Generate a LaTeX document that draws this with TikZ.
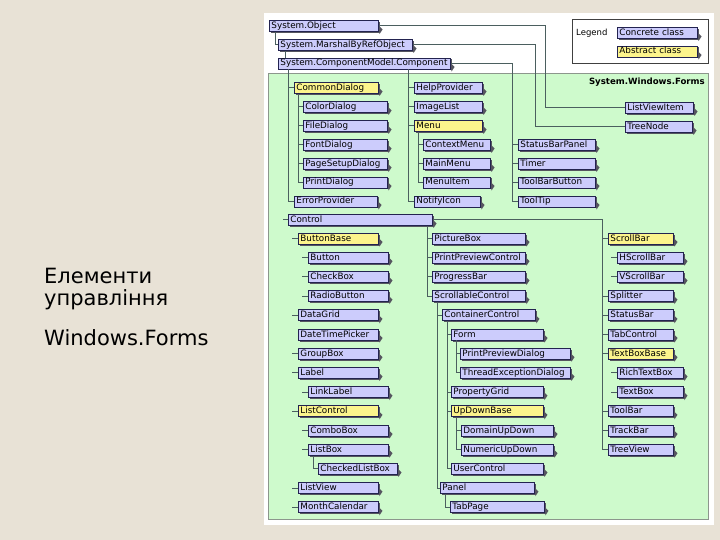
\documentclass[tikz,border=0pt]{standalone}
\usepackage{fontspec}
\setmainfont{DejaVu Sans}
\usetikzlibrary{calc}
\definecolor{bgc}{RGB}{232,226,214}
\definecolor{grn}{RGB}{206,250,204}
\definecolor{grnb}{RGB}{140,150,140}
\definecolor{lav}{RGB}{204,204,252}
\definecolor{yel}{RGB}{252,244,140}
\definecolor{navy}{RGB}{35,35,80}
\definecolor{treec}{RGB}{75,95,95}
\definecolor{shad}{RGB}{85,85,95}
\tikzset{
  cls/.style={draw=navy, line width=0.9pt, fill=lav, anchor=west, minimum height=11pt,
    inner ysep=0pt, inner xsep=2pt, font=\fontsize{8.8}{9}\selectfont,
    text height=6.6pt, text depth=1.6pt, align=left},
  abs/.style={cls, fill=yel},
  tree/.style={draw=treec, line width=1pt},
  big/.style={anchor=base west, font=\fontsize{21}{24}\selectfont, inner sep=0pt},
}
% style, name, left, right, y, text
\newcommand\clsbox[6][cls]{%
  \pgfmathsetmacro\cw{#4-#3-4}%
  \fill[shad] (#3+1.5,#5-4) rectangle (#4+1.5,#5+7);%
  \fill[shad] (#4,#5-1) -- (#4+4.5,#5+3.5) -- (#4+1.5,#5+8) -- cycle;%
  \node[#1, text width=\cw pt] (#2) at (#3,#5) {#6};%
}
\begin{document}
\begin{tikzpicture}[x=1pt,y=-1pt]
\useasboundingbox (0,0) rectangle (720,540);
\fill[bgc] (0,0) rectangle (720,540);
% left title
\node[big] (t1) at (44,283) {Елементи};
\node[big] (t2) at (44,305) {управління};
\node[big] (t3) at (44,345) {Windows.Forms};
% panel
\fill[white] (264,13) rectangle (714,525);
\draw[draw=grnb, fill=grn, line width=0.8pt] (268,73) rectangle (708,519);
\node[anchor=east, font=\bfseries\fontsize{8.6}{9}\selectfont, inner sep=0pt] (swf) at (705,82) {System.Windows.Forms};
% legend
\draw[draw=black!75, fill=white, line width=0.8pt] (572,19) rectangle (708,63);
\node[anchor=west, font=\fontsize{8.5}{9}\selectfont, inner sep=0pt] (legt) at (576,33) {Legend};
\clsbox{leg1}{617}{697}{33}{Concrete class}
\clsbox[abs]{leg2}{617}{697}{51.5}{Abstract class}
% system classes
\clsbox{obj}{269}{378}{26}{System.Object}
\clsbox{mbr}{278}{412}{45}{System.MarshalByRefObject}
\clsbox{cmp}{278}{450}{63.5}{System.ComponentModel.Component}
% components
\clsbox[abs]{cdlg}{294}{378}{88}{CommonDialog}
\clsbox{colord}{303}{387}{107}{ColorDialog}
\clsbox{filed}{303}{387}{126}{FileDialog}
\clsbox{fontd}{303}{387}{145}{FontDialog}
\clsbox{psd}{303}{387}{164}{PageSetupDialog}
\clsbox{prd}{303}{387}{182.5}{PrintDialog}
\clsbox{errp}{294}{377}{201.5}{ErrorProvider}
\clsbox{help}{414}{482}{88}{HelpProvider}
\clsbox{imgl}{414}{482}{107}{ImageList}
\clsbox[abs]{menu}{414}{482}{126}{Menu}
\clsbox{ctxm}{423}{490}{145}{ContextMenu}
\clsbox{mainm}{423}{490}{164}{MainMenu}
\clsbox{menui}{423}{490}{182.5}{MenuItem}
\clsbox{notif}{414}{480}{201.5}{NotifyIcon}
\clsbox{lvi}{625}{693}{108}{ListViewItem}
\clsbox{tnode}{625}{692}{127}{TreeNode}
\clsbox{sbp}{518}{595}{145}{StatusBarPanel}
\clsbox{timer}{518}{595}{164}{Timer}
\clsbox{tbb}{518}{595}{182.5}{ToolBarButton}
\clsbox{ttip}{518}{595}{201.5}{ToolTip}
% control
\clsbox{ctl}{288}{432}{220}{Control}
% left column
\clsbox[abs]{bbase}{298}{378}{238.5}{ButtonBase}
\clsbox{btn}{308}{388}{257.7}{Button}
\clsbox{chk}{308}{388}{276.9}{CheckBox}
\clsbox{rad}{308}{388}{296.1}{RadioButton}
\clsbox{dgrid}{298}{378}{315.3}{DataGrid}
\clsbox{dtp}{298}{378}{334.5}{DateTimePicker}
\clsbox{grp}{298}{378}{353.7}{GroupBox}
\clsbox{lbl}{298}{378}{372.9}{Label}
\clsbox{llbl}{308}{388}{392.1}{LinkLabel}
\clsbox[abs]{lctl}{298}{378}{411.3}{ListControl}
\clsbox{cmb}{308}{388}{430.5}{ComboBox}
\clsbox{lbox}{308}{388}{449.7}{ListBox}
\clsbox{clb}{318}{397}{468.9}{CheckedListBox}
\clsbox{lview}{298}{378}{488.1}{ListView}
\clsbox{mcal}{298}{378}{507.3}{MonthCalendar}
% middle column
\clsbox{pbox}{432}{525}{238.5}{PictureBox}
\clsbox{ppc}{432}{525}{257.7}{PrintPreviewControl}
\clsbox{prog}{432}{525}{276.9}{ProgressBar}
\clsbox{scr}{432}{525}{296.1}{ScrollableControl}
\clsbox{cc}{442}{535}{315.3}{ContainerControl}
\clsbox{form}{451}{543}{334.5}{Form}
\clsbox{ppd}{460}{570}{353.7}{PrintPreviewDialog}
\clsbox{ted}{460}{570}{372.9}{ThreadExceptionDialog}
\clsbox{pgrid}{451}{543}{392.1}{PropertyGrid}
\clsbox[abs]{udb}{451}{543}{411.3}{UpDownBase}
\clsbox{dud}{461}{553}{430.5}{DomainUpDown}
\clsbox{nud}{461}{553}{449.7}{NumericUpDown}
\clsbox{uctl}{451}{543}{468.9}{UserControl}
\clsbox{pnl}{440}{534}{488.1}{Panel}
\clsbox{tpage}{450}{544}{507.3}{TabPage}
% right column
\clsbox[abs]{sbar}{608}{673}{238.5}{ScrollBar}
\clsbox{hsb}{617}{683}{257.7}{HScrollBar}
\clsbox{vsb}{617}{683}{276.9}{VScrollBar}
\clsbox{split}{608}{673}{296.1}{Splitter}
\clsbox{stbar}{608}{673}{315.3}{StatusBar}
\clsbox{tabc}{608}{673}{334.5}{TabControl}
\clsbox[abs]{tbbase}{608}{673}{353.7}{TextBoxBase}
\clsbox{rtb}{617}{683}{372.9}{RichTextBox}
\clsbox{tbox}{617}{683}{392.1}{TextBox}
\clsbox{tbar}{608}{673}{411.3}{ToolBar}
\clsbox{trk}{608}{673}{430.5}{TrackBar}
\clsbox{trv}{608}{673}{449.7}{TreeView}
% ---------- connectors ----------
\begin{scope}[on background layer/.style={}]
\coordinate (jo) at (545,26);
\coordinate (jm) at (535,45);
\coordinate (jc) at (512,63.5);
\coordinate (jr) at (602,220);
\end{scope}
\draw[tree] (obj.east) -- (jo) |- (lvi.west);
\draw[tree] (mbr.east) -- (jm) |- (tnode.west);
\draw[tree] (cmp.east) -- (jc) |- (ttip.west);
\foreach \n in {sbp,timer,tbb} \draw[tree] (jc) |- (\n.west);
\draw[tree] ([xshift=6pt]obj.south west) |- (mbr.west);
\draw[tree] ([xshift=7pt]mbr.south west) -- ([xshift=7pt]mbr.south west |- cmp.north);
\foreach \n in {cdlg,errp} \draw[tree] ([xshift=10pt]cmp.south west) |- (\n.west);
\foreach \n in {colord,filed,fontd,psd,prd} \draw[tree] ([xshift=4pt]cdlg.south west) |- (\n.west);
\foreach \n in {help,imgl,menu,notif} \draw[tree] ([xshift=130pt]cmp.south west) |- (\n.west);
\foreach \n in {ctxm,mainm,menui} \draw[tree] ([xshift=4pt]menu.south west) |- (\n.west);
\draw[tree] ([xshift=-5pt]ctl.west) -- (ctl.west);
% control children
\draw[tree] (ctl.east) -- (jr) |- (trv.west);
\foreach \n in {sbar,split,stbar,tabc,tbbase,tbar,trk} \draw[tree] (jr) |- (\n.west);
\foreach \n in {pbox,ppc,prog,scr} \draw[tree] ([xshift=139pt]ctl.south west) |- (\n.west);
\foreach \n in {cc,pnl} \draw[tree] ([xshift=5pt]scr.south west) |- (\n.west);
\foreach \n in {form,pgrid,udb,uctl} \draw[tree] ([xshift=5pt]cc.south west) |- (\n.west);
\foreach \n in {ppd,ted} \draw[tree] ([xshift=5pt]form.south west) |- (\n.west);
\foreach \n in {dud,nud} \draw[tree] ([xshift=5pt]udb.south west) |- (\n.west);
\draw[tree] ([xshift=5pt]pnl.south west) |- (tpage.west);
\draw[tree] ([xshift=5pt]lbox.south west) |- (clb.west);
\foreach \n in {bbase,dgrid,grp,lbl,lctl,lview,mcal,btn,chk,rad,llbl,cmb,lbox,hsb,vsb,rtb,tbox}
  \draw[tree] ([xshift=-6pt]\n.west) -- (\n.west);
\end{tikzpicture}
\end{document}
